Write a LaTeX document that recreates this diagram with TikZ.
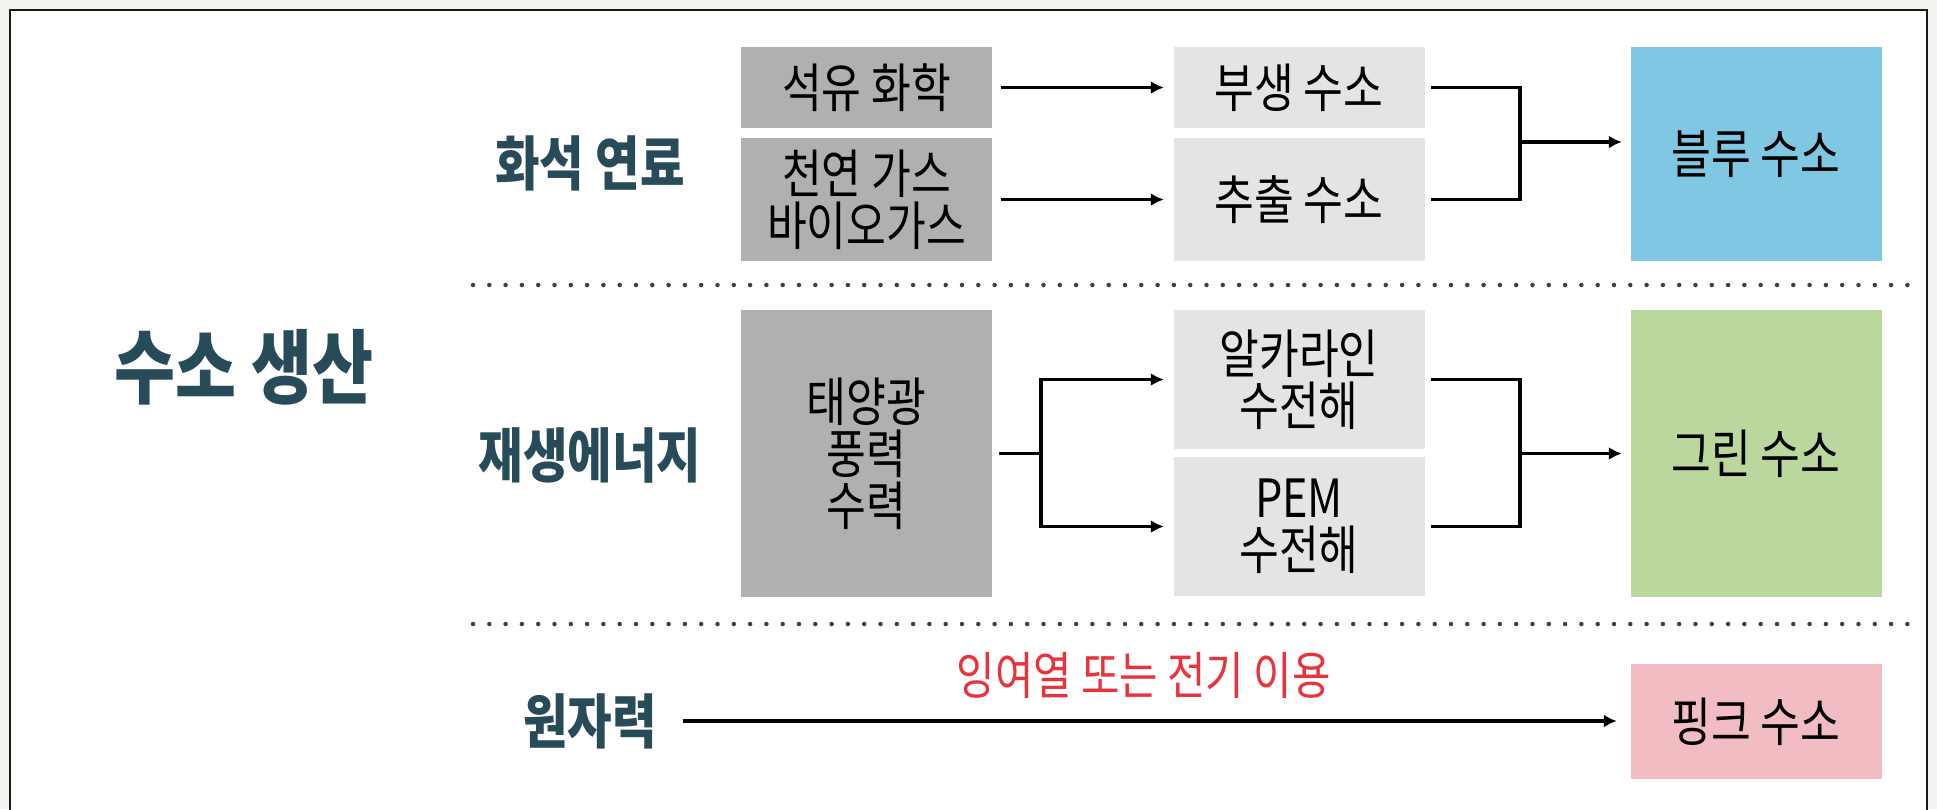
\documentclass[tikz,border=0pt]{standalone}
\usepackage{fontspec}
\setmainfont[FakeStretch=0.82]{Noto Sans CJK KR}
\usetikzlibrary{arrows.meta}
\definecolor{b0b0b0}{HTML}{B0B0B0}
\definecolor{e4e4e4}{HTML}{E4E4E4}
\definecolor{7fc7e3}{HTML}{7FC7E3}
\definecolor{bad89d}{HTML}{BAD89D}
\definecolor{f1bdc3}{HTML}{F1BDC3}
\definecolor{284b59}{HTML}{284B59}
\definecolor{e8323c}{HTML}{E8323C}
\definecolor{f4f3ef}{HTML}{F4F3EF}

\begin{document}
\begin{tikzpicture}[x=.1mm,y=-.1mm,>={Latex[length=1.3mm,width=1.3mm]},
    box/.style={inner sep=0,minimum width=25.1mm,align=center,text=black,font=\fontsize{15}{14.8}\selectfont},
    src/.style={box,fill=b0b0b0},
    mid/.style={box,fill=e4e4e4},
    hd/.style={inner sep=0,text=284b59,font=\bfseries\fontsize{16.8}{18}\selectfont},
    link/.style={line width=.34mm},
    dots/.style={line width=.45mm,line cap=round,dash pattern=on 0pt off 1.63mm,draw=black!75}]
    \useasboundingbox(0,0)rectangle(1937,809);
    \fill[f4f3ef](0,0)rectangle(1937,809);
    \filldraw[fill=white,draw=black!90,line width=.27mm](10,10)rectangle(1927,840);
    % labels on the left
    \node[hd,font=\bfseries\fontsize{23}{26}\selectfont](title)at(244,367){수소 생산};
    \node[hd](fossil)at(590,163){화석 연료};
    \node[hd](renewable)at(590,455){재생에너지};
    \node[hd](nuke)at(590,721){원자력};
    % sources
    \node[src,minimum height=8.1mm](petro)at(866.5,87.5){석유 화학};
    \node[src,minimum height=12.3mm](gas)at(866.5,199.5){천연 가스\\바이오가스};
    \node[src,minimum height=28.7mm](solar)at(866.5,453.5){태양광\\풍력\\수력};
    % processes
    \node[mid,minimum height=8.1mm](byprod)at(1299,87.5){부생 수소};
    \node[mid,minimum height=12.3mm](extract)at(1299,199.5){추출 수소};
    \node[mid,minimum height=13.9mm](alkaline)at(1299,379.5){알카라인\\수전해};
    \node[mid,minimum height=13.9mm](pem)at(1299,526.5){PEM\\수전해};
    % hydrogen
    \node[box,fill=7fc7e3,minimum height=21.4mm](blue)at(1756,154){블루 수소};
    \node[box,fill=bad89d,minimum height=28.7mm](green)at(1756,453.5){그린 수소};
    \node[box,fill=f1bdc3,minimum height=11.5mm](pink)at(1756,721.5){핑크 수소};
    \draw[dots](473,285)--(1912,285);
    \draw[dots](473,624)--(1912,624);
    % fossil
    \draw[->,link,shorten <=.8mm,shorten >=.9mm](petro)--(byprod);
    \draw[->,link,shorten <=.8mm,shorten >=.9mm](gas)--(extract);
    \coordinate(bjoin)at(1520,142);
    \draw[link]([xshift=.6mm]byprod.east)-|(bjoin);
    \draw[link]([xshift=.6mm]extract.east)-|(bjoin);
    \draw[->,link,shorten >=.8mm](bjoin)--(bjoin-|blue.west);
    % renewable
    \coordinate(rsplit)at(1041,453.5);
    \draw[link]([xshift=.6mm]solar.east)--(rsplit);
    \draw[->,link,shorten >=.9mm](rsplit)|-(alkaline.west);
    \draw[->,link,shorten >=.9mm](rsplit)|-(pem.west);
    \coordinate(gjoin)at(1520,453.5);
    \draw[link]([xshift=.6mm]alkaline.east)-|(gjoin);
    \draw[link]([xshift=.6mm]pem.east)-|(gjoin);
    \draw[->,link,shorten >=.8mm](gjoin)--(gjoin-|green.west);
    % nuclear
    \draw[->,link,shorten <=2.5mm,shorten >=1.3mm](nuke)--(nuke-|pink.west)
        node[midway,above=.9mm,text=e8323c,font=\fontsize{14.5}{16}\selectfont]{잉여열 또는 전기 이용};
\end{tikzpicture}
\end{document}
